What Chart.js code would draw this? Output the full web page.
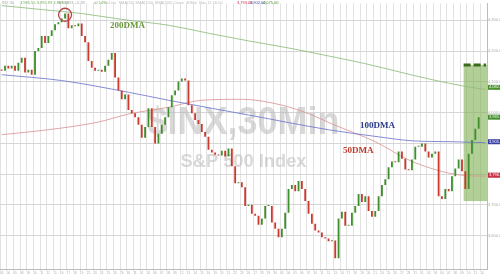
<!DOCTYPE html>
<html lang="en">
<head>
<meta charset="UTF-8">
<title>S&amp;P 500 Index 30Min</title>
<script src="https://cdn.jsdelivr.net/npm/chart.js@4.4.1/dist/chart.umd.min.js"></script>
<style>
  html, body { margin: 0; padding: 0; background: #fff; }
  #chart { display: block; }
</style>
</head>
<body>
<canvas id="chart" width="500" height="275"></canvas>
<script>
// trading days shown (Aug 3 -> Nov 14), two 30min-ish samples per day
const days = [
  '08/03','08/04','08/05','08/08','08/09','08/10','08/11','08/12','08/15','08/16',
  '08/17','08/18','08/19','08/22','08/23','08/24','08/25','08/26','08/29','08/30','08/31',
  '09/01','09/02','09/06','09/07','09/08','09/09','09/12','09/13','09/14','09/15',
  '09/16','09/19','09/20','09/21','09/22','09/23','09/26','09/27','09/28','09/29','09/30',
  '10/03','10/04','10/05','10/06','10/07','10/10','10/11','10/12','10/13','10/14',
  '10/17','10/18','10/19','10/20','10/21','10/24','10/25','10/26','10/27','10/28','10/31',
  '11/01','11/02','11/03','11/04','11/07','11/08','11/09','11/10','11/11','11/14'
];

const firstOpen = 4140;
const closes = [
  4136,4152,4143,4152,4136,4162,4178,4130,4139,4123,
  4200,4210,4249,4226,4249,4268,4287,4294,4306,4322,
  4274,4284,4281,4290,4249,4229,4168,4146,4136,4139,
  4133,4152,4172,4194,4114,4072,4043,4059,4008,3998,
  3985,3960,3918,3953,4014,3953,3899,3931,3960,3985,
  4017,4056,4072,4101,4111,4104,4024,3998,3976,3963,
  3937,3921,3879,3870,3863,3860,3876,3857,3883,3825,
  3770,3773,3757,3696,3700,3671,3664,3635,3655,3696,
  3696,3642,3622,3594,3622,3674,3751,3764,3744,3777,
  3751,3712,3671,3638,3616,3610,3594,3590,3581,3584,
  3526,3655,3677,3632,3632,3674,3696,3735,3709,3728,
  3680,3661,3680,3728,3764,3783,3822,3841,3838,3873,
  3850,3815,3812,3847,3889,3889,3899,3873,3854,3866,
  3873,3728,3719,3751,3744,3793,3818,3847,3809,3751,
  3866,3911,3947,3985
];

// moving averages, read at a handful of sample positions
const ma200Idx = [0, 12, 24, 36, 50, 62, 74, 86, 98, 109, 120, 129, 139, 145];
const ma200Val = [4348, 4335, 4322, 4303, 4284, 4258, 4233, 4210, 4184, 4159, 4130, 4107, 4085, 4075];
const ma100Idx = [0, 18, 38, 50, 74, 98, 113, 123, 135, 145];
const ma100Val = [4123, 4104, 4066, 4040, 3992, 3944, 3921, 3908, 3905, 3902];
const ma50Idx = [0, 14, 29, 38, 50, 60, 72, 84, 93, 99, 112, 123, 138, 145];
const ma50Val = [3928, 3944, 3969, 3995, 4017, 4040, 4043, 4024, 3992, 3963, 3905, 3841, 3796, 3793];

// green box (CPI rally) and circled top
const boxStart = 139, boxTop = 4155, boxBottom = 3712;
const topIdx = 19, topPrice = 4318;

const labels = days.flatMap(d => [d + ' am', d + ' pm']);
const opens = closes.map((c, i) => i === 0 ? firstOpen : closes[i - 1]);
const candleData = closes.map((c, i) => [opens[i], c]);
const candleColors = closes.map((c, i) => c >= opens[i] ? '#3f8f2c' : '#cc3a2e');
const pts = (idx, val) => idx.map((k, j) => ({ x: labels[k], y: val[j] }));

const fmt = v => v.toLocaleString('en-US', { minimumFractionDigits: 2, maximumFractionDigits: 2 });

const overlay = {
  id: 'overlay',
  beforeDatasetsDraw(chart) {
    const { ctx, chartArea: a, scales: { x, y } } = chart;
    ctx.save();
    // watermark
    ctx.fillStyle = 'rgba(180,180,180,0.5)';
    ctx.textAlign = 'center';
    ctx.font = 'bold 38px "Liberation Sans"';
    ctx.fillText('$INX,30Min', a.left + a.width * 0.5, 134, 192);
    ctx.font = 'bold 19px "Liberation Sans"';
    ctx.fillText('S&P 500 Index', a.left + a.width * 0.5, 167, 126);
    // green box
    const slot = a.width / labels.length;
    const bx = x.getPixelForValue(boxStart) - slot / 2;
    const by = y.getPixelForValue(boxTop);
    const bb = y.getPixelForValue(boxBottom);
    ctx.fillStyle = 'rgba(125,175,80,0.6)';
    ctx.fillRect(bx, by, a.right - bx, bb - by);
    ctx.strokeStyle = '#3b6a1c';
    ctx.lineWidth = 3;
    ctx.setLineDash([7, 3]);
    ctx.beginPath();
    ctx.moveTo(bx, by);
    ctx.lineTo(a.right - 1, by);
    ctx.stroke();
    ctx.restore();
  },
  afterDatasetsDraw(chart) {
    const { ctx, scales: { x, y } } = chart;
    ctx.save();
    ctx.font = 'bold 9px "Liberation Serif"';
    ctx.textAlign = 'left';
    ctx.fillStyle = '#6b9a3a';
    ctx.fillText('200DMA', 110, 28);
    ctx.fillStyle = '#2d3a8c';
    ctx.fillText('100DMA', 360, 128);
    ctx.fillStyle = '#c0392b';
    ctx.fillText('50DMA', 343, 153);
    // circle the top
    ctx.strokeStyle = '#b04848';
    ctx.lineWidth = 1.3;
    ctx.beginPath();
    ctx.arc(x.getPixelForValue(topIdx), y.getPixelForValue(topPrice), 6.5, 0, Math.PI * 2);
    ctx.stroke();
    ctx.restore();
  },
  afterDraw(chart) {
    const { ctx, chartArea: a, scales: { y } } = chart;
    ctx.save();
    // value tags on the right axis
    const tags = [
      [ma200Val[ma200Val.length - 1] + 7, '#4a8f2e'],
      [closes[closes.length - 1], '#3d8b2a'],
      [ma100Val[ma100Val.length - 1] + 3, '#3a3fa8'],
      [ma50Val[ma50Val.length - 1] + 3, '#c53048']
    ];
    ctx.font = '4px "Liberation Sans"';
    ctx.textBaseline = 'middle';
    tags.forEach(([v, c]) => {
      const ty = y.getPixelForValue(v);
      ctx.fillStyle = c;
      ctx.fillRect(a.right + 1, ty - 2.5, 13, 5);
      ctx.fillStyle = '#fff';
      ctx.fillText(fmt(v), a.right + 2, ty);
    });
    // tiny header line
    ctx.textBaseline = 'top';
    const parts = [
      [2, '#aaa', 'INX 30'],
      [20, '#6aa84f', '3,985.55 3,992.93 3,983.40'],
      [58, '#aaa', '3,992.93 +5.38'],
      [93, '#6aa84f', '+0.14%'],
      [104, '#bbb', 'Vol n/a  SMA(50) SMA(100) SMA(200) Close  30Min  Nov 11 16:00'],
      [237, '#c53048', fmt(ma50Val[ma50Val.length - 1])],
      [250, '#3a3fa8', fmt(ma100Val[ma100Val.length - 1])],
      [263, '#4a8f2e', fmt(ma200Val[ma200Val.length - 1])]
    ];
    parts.forEach(([px, c, t]) => { ctx.fillStyle = c; ctx.fillText(t, px, 1); });
    ctx.restore();
  }
};

new Chart(document.getElementById('chart'), {
  data: {
    labels: labels,
    datasets: [
      {
        type: 'bar',
        data: candleData,
        backgroundColor: candleColors,
        barPercentage: 0.55,
        categoryPercentage: 1,
        minBarLength: 1,
        grouped: false,
        order: 0
      },
      { type: 'line', data: pts(ma200Idx, ma200Val), borderColor: 'rgba(145,188,125,0.85)', borderWidth: 1, pointRadius: 0, cubicInterpolationMode: 'monotone', order: 1 },
      { type: 'line', data: pts(ma100Idx, ma100Val), borderColor: 'rgba(110,120,205,0.85)', borderWidth: 1, pointRadius: 0, cubicInterpolationMode: 'monotone', order: 1 },
      { type: 'line', data: pts(ma50Idx, ma50Val), borderColor: 'rgba(220,150,150,0.85)', borderWidth: 1, pointRadius: 0, cubicInterpolationMode: 'monotone', order: 1 }
    ]
  },
  options: {
    responsive: false,
    animation: false,
    devicePixelRatio: 1,
    layout: { padding: 0 },
    plugins: { legend: { display: false }, tooltip: { enabled: false } },
    scales: {
      x: {
        type: 'category',
        offset: true,
        grid: {
          offset: true,
          color: c => c.index % 2 === 0 ? '#e2e2e2' : 'transparent',
          tickLength: 2
        },
        border: { color: '#bbb' },
        ticks: {
          autoSkip: false,
          maxRotation: 0,
          padding: 0,
          font: { size: 3, family: 'Liberation Sans' },
          color: '#aaa',
          callback: (v, i) => i % 2 === 0 ? days[i / 2].slice(3) : ''
        },
        afterFit: s => { s.height = 6; }
      },
      y: {
        position: 'right',
        min: 3491,
        max: 4355,
        ticks: {
          stepSize: 100,
          padding: 1,
          font: { size: 4, family: 'Liberation Sans' },
          color: '#aaa',
          callback: v => fmt(v)
        },
        afterBuildTicks: s => { s.ticks = s.ticks.filter(t => t.value % 100 === 0); },
        grid: { color: '#d6d6d6', drawTicks: false },
        border: { color: '#bbb' },
        afterFit: s => { s.width = 13; }
      }
    }
  },
  plugins: [overlay]
});
</script>
</body>
</html>
